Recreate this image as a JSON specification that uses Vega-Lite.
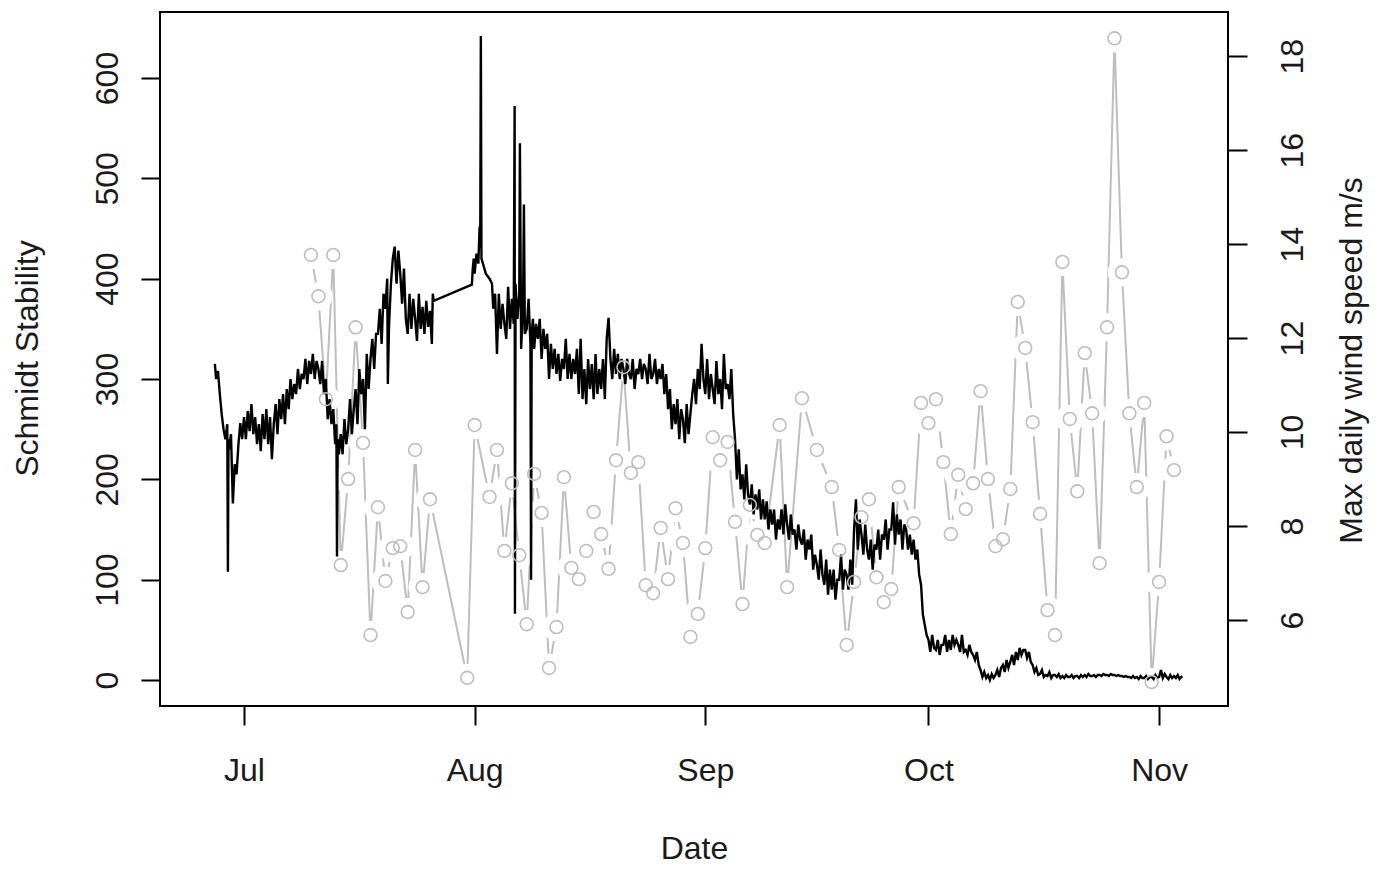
{
  "$schema": "https://vega.github.io/schema/vega-lite/v6.json",
  "width": 1068,
  "height": 694,
  "autosize": {"type": "none"},
  "padding": {"left": 160, "top": 12, "right": 155, "bottom": 167},
  "background": "white",
  "config": {
    "view": {"stroke": "black", "strokeWidth": 2},
    "font": "Liberation Sans",
    "axis": {"labelFont": "Liberation Sans", "titleFont": "Liberation Sans", "labelColor": "#1a1a1a", "titleColor": "#1a1a1a", "tickColor": "black", "tickWidth": 2, "grid": false, "domain": false, "labelFontSize": 32, "titleFontSize": 32, "titleFontWeight": "normal", "labelFlush": false, "labelOverlap": false}
  },
  "datasets": {
    "wind": [
      {"t":"2010-07-10","w":13.77},{"t":"2010-07-11","w":12.89},{"t":"2010-07-12","w":10.7},{"t":"2010-07-13","w":13.77},{"t":"2010-07-14","w":7.17},{"t":"2010-07-15","w":9.0},{"t":"2010-07-16","w":12.23},{"t":"2010-07-17","w":9.77},{"t":"2010-07-18","w":5.68},{"t":"2010-07-19","w":8.4},{"t":"2010-07-20","w":6.83},{"t":"2010-07-21","w":7.53},{"t":"2010-07-22","w":7.57},{"t":"2010-07-23","w":6.17},{"t":"2010-07-24","w":9.62},{"t":"2010-07-25","w":6.7},{"t":"2010-07-26","w":8.57},{"t":"2010-07-31","w":4.77},
      {"t":"2010-08-01","w":10.15},{"t":"2010-08-03","w":8.62},{"t":"2010-08-04","w":9.62},{"t":"2010-08-05","w":7.47},{"t":"2010-08-06","w":8.91},{"t":"2010-08-07","w":7.38},{"t":"2010-08-08","w":5.91},{"t":"2010-08-09","w":9.11},{"t":"2010-08-10","w":8.28},{"t":"2010-08-11","w":4.98},{"t":"2010-08-12","w":5.85},{"t":"2010-08-13","w":9.04},{"t":"2010-08-14","w":7.11},{"t":"2010-08-15","w":6.87},{"t":"2010-08-16","w":7.47},{"t":"2010-08-17","w":8.3},{"t":"2010-08-18","w":7.83},{"t":"2010-08-19","w":7.09},{"t":"2010-08-20","w":9.4},{"t":"2010-08-21","w":11.38},{"t":"2010-08-22","w":9.13},{"t":"2010-08-23","w":9.36},{"t":"2010-08-24","w":6.74},{"t":"2010-08-25","w":6.57},{"t":"2010-08-26","w":7.96},{"t":"2010-08-27","w":6.87},{"t":"2010-08-28","w":8.38},{"t":"2010-08-29","w":7.64},{"t":"2010-08-30","w":5.64},{"t":"2010-08-31","w":6.13},
      {"t":"2010-09-01","w":7.53},{"t":"2010-09-02","w":9.89},{"t":"2010-09-03","w":9.4},{"t":"2010-09-04","w":9.79},{"t":"2010-09-05","w":8.09},{"t":"2010-09-06","w":6.34},{"t":"2010-09-07","w":8.45},{"t":"2010-09-08","w":7.81},{"t":"2010-09-09","w":7.64},{"t":"2010-09-11","w":10.15},{"t":"2010-09-12","w":6.7},{"t":"2010-09-14","w":10.72},{"t":"2010-09-16","w":9.62},{"t":"2010-09-18","w":8.83},{"t":"2010-09-19","w":7.49},{"t":"2010-09-20","w":5.47},{"t":"2010-09-21","w":6.81},{"t":"2010-09-22","w":8.19},{"t":"2010-09-23","w":8.57},{"t":"2010-09-24","w":6.91},{"t":"2010-09-25","w":6.38},{"t":"2010-09-26","w":6.66},{"t":"2010-09-27","w":8.83},{"t":"2010-09-29","w":8.06},{"t":"2010-09-30","w":10.62},
      {"t":"2010-10-01","w":10.19},{"t":"2010-10-02","w":10.7},{"t":"2010-10-03","w":9.36},{"t":"2010-10-04","w":7.83},{"t":"2010-10-05","w":9.09},{"t":"2010-10-06","w":8.36},{"t":"2010-10-07","w":8.91},{"t":"2010-10-08","w":10.87},{"t":"2010-10-09","w":9.0},{"t":"2010-10-10","w":7.57},{"t":"2010-10-11","w":7.72},{"t":"2010-10-12","w":8.79},{"t":"2010-10-13","w":12.77},{"t":"2010-10-14","w":11.79},{"t":"2010-10-15","w":10.21},{"t":"2010-10-16","w":8.26},{"t":"2010-10-17","w":6.21},{"t":"2010-10-18","w":5.68},{"t":"2010-10-19","w":13.62},{"t":"2010-10-20","w":10.28},{"t":"2010-10-21","w":8.74},{"t":"2010-10-22","w":11.68},{"t":"2010-10-23","w":10.4},{"t":"2010-10-24","w":7.21},{"t":"2010-10-25","w":12.23},{"t":"2010-10-26","w":18.38},{"t":"2010-10-27","w":13.4},{"t":"2010-10-28","w":10.4},{"t":"2010-10-29","w":8.83},{"t":"2010-10-30","w":10.62},{"t":"2010-10-31","w":4.68},
      {"t":"2010-11-01","w":6.81},{"t":"2010-11-02","w":9.91},{"t":"2010-11-03","w":9.19}
    ],
    "schmidt": [
      {"t":"2010-06-27T02:00Z","s":315},{"t":"2010-06-27T06:00Z","s":300},{"t":"2010-06-27T12:00Z","s":308},{"t":"2010-06-27T18:00Z","s":285},
      {"t":"2010-06-28T00:00Z","s":265},{"t":"2010-06-28T06:00Z","s":250},{"t":"2010-06-28T12:00Z","s":240},{"t":"2010-06-28T18:00Z","s":255},{"t":"2010-06-28T20:00Z","s":108},{"t":"2010-06-28T22:00Z","s":240},
      {"t":"2010-06-29T00:00Z","s":230},{"t":"2010-06-29T06:00Z","s":245},{"t":"2010-06-29T12:00Z","s":176},{"t":"2010-06-29T18:00Z","s":215},
      {"t":"2010-06-30T00:00Z","s":205},{"t":"2010-06-30T06:00Z","s":235},{"t":"2010-06-30T12:00Z","s":256},{"t":"2010-06-30T18:00Z","s":240},
      {"t":"2010-07-01T00:00Z","s":262},{"t":"2010-07-01T06:00Z","s":240},{"t":"2010-07-01T12:00Z","s":268},{"t":"2010-07-01T18:00Z","s":248},
      {"t":"2010-07-02T00:00Z","s":275},{"t":"2010-07-02T06:00Z","s":245},{"t":"2010-07-02T12:00Z","s":262},{"t":"2010-07-02T18:00Z","s":235},
      {"t":"2010-07-03T00:00Z","s":255},{"t":"2010-07-03T06:00Z","s":228},{"t":"2010-07-03T12:00Z","s":265},{"t":"2010-07-03T18:00Z","s":240},
      {"t":"2010-07-04T00:00Z","s":270},{"t":"2010-07-04T06:00Z","s":235},{"t":"2010-07-04T12:00Z","s":262},{"t":"2010-07-04T18:00Z","s":220},
      {"t":"2010-07-05T00:00Z","s":255},{"t":"2010-07-05T06:00Z","s":275},{"t":"2010-07-05T12:00Z","s":245},{"t":"2010-07-05T18:00Z","s":280},
      {"t":"2010-07-06T00:00Z","s":260},{"t":"2010-07-06T06:00Z","s":285},{"t":"2010-07-06T12:00Z","s":255},{"t":"2010-07-06T18:00Z","s":290},
      {"t":"2010-07-07T00:00Z","s":270},{"t":"2010-07-07T06:00Z","s":300},{"t":"2010-07-07T12:00Z","s":280},{"t":"2010-07-07T18:00Z","s":295},
      {"t":"2010-07-08T00:00Z","s":285},{"t":"2010-07-08T06:00Z","s":310},{"t":"2010-07-08T12:00Z","s":290},{"t":"2010-07-08T18:00Z","s":305},
      {"t":"2010-07-09T00:00Z","s":300},{"t":"2010-07-09T06:00Z","s":320},{"t":"2010-07-09T12:00Z","s":295},{"t":"2010-07-09T18:00Z","s":318},
      {"t":"2010-07-10T00:00Z","s":305},{"t":"2010-07-10T06:00Z","s":325},{"t":"2010-07-10T12:00Z","s":300},{"t":"2010-07-10T18:00Z","s":318},
      {"t":"2010-07-11T00:00Z","s":310},{"t":"2010-07-11T06:00Z","s":295},{"t":"2010-07-11T12:00Z","s":318},{"t":"2010-07-11T18:00Z","s":285},
      {"t":"2010-07-12T00:00Z","s":300},{"t":"2010-07-12T06:00Z","s":260},{"t":"2010-07-12T12:00Z","s":280},{"t":"2010-07-12T18:00Z","s":255},
      {"t":"2010-07-13T00:00Z","s":270},{"t":"2010-07-13T06:00Z","s":235},{"t":"2010-07-13T10:00Z","s":255},{"t":"2010-07-13T12:00Z","s":123},{"t":"2010-07-13T14:00Z","s":240},{"t":"2010-07-13T18:00Z","s":225},
      {"t":"2010-07-14T00:00Z","s":245},{"t":"2010-07-14T06:00Z","s":225},{"t":"2010-07-14T12:00Z","s":260},{"t":"2010-07-14T18:00Z","s":235},
      {"t":"2010-07-15T00:00Z","s":250},{"t":"2010-07-15T06:00Z","s":280},{"t":"2010-07-15T12:00Z","s":245},{"t":"2010-07-15T18:00Z","s":270},
      {"t":"2010-07-16T00:00Z","s":290},{"t":"2010-07-16T06:00Z","s":255},{"t":"2010-07-16T12:00Z","s":310},{"t":"2010-07-16T18:00Z","s":285},
      {"t":"2010-07-17T00:00Z","s":300},{"t":"2010-07-17T06:00Z","s":250},{"t":"2010-07-17T12:00Z","s":325},{"t":"2010-07-17T18:00Z","s":290},
      {"t":"2010-07-18T00:00Z","s":320},{"t":"2010-07-18T06:00Z","s":340},{"t":"2010-07-18T12:00Z","s":310},{"t":"2010-07-18T18:00Z","s":345},
      {"t":"2010-07-19T00:00Z","s":345},{"t":"2010-07-19T06:00Z","s":370},{"t":"2010-07-19T12:00Z","s":335},{"t":"2010-07-19T18:00Z","s":385},
      {"t":"2010-07-20T00:00Z","s":370},{"t":"2010-07-20T06:00Z","s":400},{"t":"2010-07-20T08:00Z","s":295},{"t":"2010-07-20T12:00Z","s":355},{"t":"2010-07-20T18:00Z","s":395},
      {"t":"2010-07-21T00:00Z","s":420},{"t":"2010-07-21T06:00Z","s":432},{"t":"2010-07-21T12:00Z","s":395},{"t":"2010-07-21T18:00Z","s":428},
      {"t":"2010-07-22T00:00Z","s":405},{"t":"2010-07-22T06:00Z","s":375},{"t":"2010-07-22T12:00Z","s":410},{"t":"2010-07-22T18:00Z","s":360},
      {"t":"2010-07-23T00:00Z","s":345},{"t":"2010-07-23T06:00Z","s":385},{"t":"2010-07-23T12:00Z","s":350},{"t":"2010-07-23T18:00Z","s":380},
      {"t":"2010-07-24T00:00Z","s":360},{"t":"2010-07-24T06:00Z","s":338},{"t":"2010-07-24T12:00Z","s":385},{"t":"2010-07-24T18:00Z","s":350},
      {"t":"2010-07-25T00:00Z","s":372},{"t":"2010-07-25T06:00Z","s":345},{"t":"2010-07-25T12:00Z","s":378},{"t":"2010-07-25T18:00Z","s":352},
      {"t":"2010-07-26T00:00Z","s":368},{"t":"2010-07-26T06:00Z","s":335},{"t":"2010-07-26T09:00Z","s":385},{"t":"2010-07-26T12:00Z","s":378},
      {"t":"2010-07-31T15:00Z","s":394},{"t":"2010-07-31T18:00Z","s":410},{"t":"2010-07-31T21:00Z","s":420},
      {"t":"2010-08-01T00:00Z","s":405},{"t":"2010-08-01T06:00Z","s":425},{"t":"2010-08-01T12:00Z","s":415},{"t":"2010-08-01T16:00Z","s":452},{"t":"2010-08-01T18:00Z","s":430},{"t":"2010-08-01T20:00Z","s":642},{"t":"2010-08-01T22:00Z","s":420},
      {"t":"2010-08-02T00:00Z","s":418},{"t":"2010-08-02T12:00Z","s":405},
      {"t":"2010-08-03T00:00Z","s":400},{"t":"2010-08-03T08:00Z","s":395},{"t":"2010-08-03T12:00Z","s":370},{"t":"2010-08-03T18:00Z","s":385},
      {"t":"2010-08-04T00:00Z","s":325},{"t":"2010-08-04T06:00Z","s":385},{"t":"2010-08-04T12:00Z","s":350},{"t":"2010-08-04T18:00Z","s":375},
      {"t":"2010-08-05T00:00Z","s":355},{"t":"2010-08-05T06:00Z","s":340},{"t":"2010-08-05T12:00Z","s":392},{"t":"2010-08-05T18:00Z","s":350},
      {"t":"2010-08-06T00:00Z","s":380},{"t":"2010-08-06T06:00Z","s":355},{"t":"2010-08-06T09:00Z","s":572},{"t":"2010-08-06T10:00Z","s":66},{"t":"2010-08-06T12:00Z","s":395},{"t":"2010-08-06T18:00Z","s":360},
      {"t":"2010-08-07T00:00Z","s":385},{"t":"2010-08-07T02:00Z","s":535},{"t":"2010-08-07T06:00Z","s":330},{"t":"2010-08-07T12:00Z","s":370},{"t":"2010-08-07T15:00Z","s":474},{"t":"2010-08-07T18:00Z","s":345},
      {"t":"2010-08-08T00:00Z","s":350},{"t":"2010-08-08T06:00Z","s":380},{"t":"2010-08-08T12:00Z","s":335},{"t":"2010-08-08T14:00Z","s":100},{"t":"2010-08-08T16:00Z","s":345},{"t":"2010-08-08T20:00Z","s":360},
      {"t":"2010-08-09T00:00Z","s":330},{"t":"2010-08-09T06:00Z","s":355},{"t":"2010-08-09T12:00Z","s":340},{"t":"2010-08-09T18:00Z","s":360},
      {"t":"2010-08-10T00:00Z","s":320},{"t":"2010-08-10T06:00Z","s":350},{"t":"2010-08-10T12:00Z","s":330},{"t":"2010-08-10T18:00Z","s":345},
      {"t":"2010-08-11T00:00Z","s":300},{"t":"2010-08-11T06:00Z","s":335},{"t":"2010-08-11T12:00Z","s":310},{"t":"2010-08-11T18:00Z","s":330},
      {"t":"2010-08-12T00:00Z","s":305},{"t":"2010-08-12T06:00Z","s":325},{"t":"2010-08-12T12:00Z","s":298},{"t":"2010-08-12T18:00Z","s":320},
      {"t":"2010-08-13T00:00Z","s":310},{"t":"2010-08-13T06:00Z","s":340},{"t":"2010-08-13T12:00Z","s":300},{"t":"2010-08-13T18:00Z","s":325},
      {"t":"2010-08-14T00:00Z","s":300},{"t":"2010-08-14T06:00Z","s":320},{"t":"2010-08-14T12:00Z","s":305},{"t":"2010-08-14T18:00Z","s":330},
      {"t":"2010-08-15T00:00Z","s":285},{"t":"2010-08-15T06:00Z","s":340},{"t":"2010-08-15T12:00Z","s":280},{"t":"2010-08-15T18:00Z","s":310},
      {"t":"2010-08-16T00:00Z","s":275},{"t":"2010-08-16T06:00Z","s":320},{"t":"2010-08-16T12:00Z","s":290},{"t":"2010-08-16T18:00Z","s":315},
      {"t":"2010-08-17T00:00Z","s":280},{"t":"2010-08-17T06:00Z","s":325},{"t":"2010-08-17T12:00Z","s":285},{"t":"2010-08-17T18:00Z","s":310},
      {"t":"2010-08-18T00:00Z","s":290},{"t":"2010-08-18T06:00Z","s":320},{"t":"2010-08-18T12:00Z","s":280},{"t":"2010-08-18T18:00Z","s":340},
      {"t":"2010-08-19T00:00Z","s":361},{"t":"2010-08-19T06:00Z","s":320},{"t":"2010-08-19T12:00Z","s":300},{"t":"2010-08-19T18:00Z","s":330},
      {"t":"2010-08-20T00:00Z","s":305},{"t":"2010-08-20T06:00Z","s":325},{"t":"2010-08-20T12:00Z","s":300},{"t":"2010-08-20T18:00Z","s":320},
      {"t":"2010-08-21T00:00Z","s":310},{"t":"2010-08-21T06:00Z","s":295},{"t":"2010-08-21T12:00Z","s":320},{"t":"2010-08-21T18:00Z","s":305},
      {"t":"2010-08-22T00:00Z","s":300},{"t":"2010-08-22T06:00Z","s":320},{"t":"2010-08-22T12:00Z","s":290},{"t":"2010-08-22T18:00Z","s":310},
      {"t":"2010-08-23T00:00Z","s":305},{"t":"2010-08-23T06:00Z","s":320},{"t":"2010-08-23T12:00Z","s":300},{"t":"2010-08-23T18:00Z","s":315},
      {"t":"2010-08-24T00:00Z","s":310},{"t":"2010-08-24T06:00Z","s":295},{"t":"2010-08-24T12:00Z","s":325},{"t":"2010-08-24T18:00Z","s":300},
      {"t":"2010-08-25T00:00Z","s":305},{"t":"2010-08-25T06:00Z","s":320},{"t":"2010-08-25T12:00Z","s":295},{"t":"2010-08-25T18:00Z","s":310},
      {"t":"2010-08-26T00:00Z","s":300},{"t":"2010-08-26T06:00Z","s":315},{"t":"2010-08-26T12:00Z","s":285},{"t":"2010-08-26T18:00Z","s":305},
      {"t":"2010-08-27T00:00Z","s":270},{"t":"2010-08-27T06:00Z","s":290},{"t":"2010-08-27T12:00Z","s":250},{"t":"2010-08-27T18:00Z","s":275},
      {"t":"2010-08-28T00:00Z","s":255},{"t":"2010-08-28T06:00Z","s":280},{"t":"2010-08-28T12:00Z","s":240},{"t":"2010-08-28T18:00Z","s":270},
      {"t":"2010-08-29T00:00Z","s":260},{"t":"2010-08-29T06:00Z","s":236},{"t":"2010-08-29T12:00Z","s":275},{"t":"2010-08-29T18:00Z","s":245},
      {"t":"2010-08-30T00:00Z","s":265},{"t":"2010-08-30T06:00Z","s":285},{"t":"2010-08-30T12:00Z","s":300},{"t":"2010-08-30T18:00Z","s":275},
      {"t":"2010-08-31T00:00Z","s":310},{"t":"2010-08-31T06:00Z","s":290},{"t":"2010-08-31T12:00Z","s":335},{"t":"2010-08-31T18:00Z","s":300},
      {"t":"2010-09-01T00:00Z","s":285},{"t":"2010-09-01T06:00Z","s":320},{"t":"2010-09-01T12:00Z","s":280},{"t":"2010-09-01T18:00Z","s":305},
      {"t":"2010-09-02T00:00Z","s":290},{"t":"2010-09-02T06:00Z","s":275},{"t":"2010-09-02T12:00Z","s":318},{"t":"2010-09-02T18:00Z","s":285},
      {"t":"2010-09-03T00:00Z","s":300},{"t":"2010-09-03T06:00Z","s":270},{"t":"2010-09-03T12:00Z","s":325},{"t":"2010-09-03T18:00Z","s":290},
      {"t":"2010-09-04T00:00Z","s":295},{"t":"2010-09-04T06:00Z","s":280},{"t":"2010-09-04T12:00Z","s":310},{"t":"2010-09-04T18:00Z","s":265},
      {"t":"2010-09-05T00:00Z","s":240},{"t":"2010-09-05T06:00Z","s":200},{"t":"2010-09-05T12:00Z","s":230},{"t":"2010-09-05T18:00Z","s":190},
      {"t":"2010-09-06T00:00Z","s":205},{"t":"2010-09-06T06:00Z","s":180},{"t":"2010-09-06T12:00Z","s":215},{"t":"2010-09-06T18:00Z","s":185},
      {"t":"2010-09-07T00:00Z","s":175},{"t":"2010-09-07T06:00Z","s":195},{"t":"2010-09-07T12:00Z","s":165},{"t":"2010-09-07T18:00Z","s":185},
      {"t":"2010-09-08T00:00Z","s":170},{"t":"2010-09-08T06:00Z","s":190},{"t":"2010-09-08T12:00Z","s":160},{"t":"2010-09-08T18:00Z","s":180},
      {"t":"2010-09-09T00:00Z","s":160},{"t":"2010-09-09T06:00Z","s":178},{"t":"2010-09-09T12:00Z","s":150},{"t":"2010-09-09T18:00Z","s":170},
      {"t":"2010-09-10T00:00Z","s":155},{"t":"2010-09-10T06:00Z","s":170},{"t":"2010-09-10T12:00Z","s":140},{"t":"2010-09-10T18:00Z","s":160},
      {"t":"2010-09-11T00:00Z","s":150},{"t":"2010-09-11T06:00Z","s":170},{"t":"2010-09-11T12:00Z","s":145},{"t":"2010-09-11T18:00Z","s":175},
      {"t":"2010-09-12T00:00Z","s":155},{"t":"2010-09-12T06:00Z","s":140},{"t":"2010-09-12T12:00Z","s":165},{"t":"2010-09-12T18:00Z","s":145},
      {"t":"2010-09-13T00:00Z","s":150},{"t":"2010-09-13T06:00Z","s":130},{"t":"2010-09-13T12:00Z","s":155},{"t":"2010-09-13T18:00Z","s":140},
      {"t":"2010-09-14T00:00Z","s":135},{"t":"2010-09-14T06:00Z","s":150},{"t":"2010-09-14T12:00Z","s":120},{"t":"2010-09-14T18:00Z","s":140},
      {"t":"2010-09-15T00:00Z","s":130},{"t":"2010-09-15T06:00Z","s":145},{"t":"2010-09-15T12:00Z","s":110},{"t":"2010-09-15T18:00Z","s":125},
      {"t":"2010-09-16T00:00Z","s":115},{"t":"2010-09-16T06:00Z","s":100},{"t":"2010-09-16T12:00Z","s":130},{"t":"2010-09-16T18:00Z","s":105},
      {"t":"2010-09-17T00:00Z","s":95},{"t":"2010-09-17T06:00Z","s":120},{"t":"2010-09-17T12:00Z","s":85},{"t":"2010-09-17T18:00Z","s":110},
      {"t":"2010-09-18T00:00Z","s":90},{"t":"2010-09-18T06:00Z","s":110},{"t":"2010-09-18T12:00Z","s":80},{"t":"2010-09-18T18:00Z","s":100},
      {"t":"2010-09-19T00:00Z","s":100},{"t":"2010-09-19T06:00Z","s":125},{"t":"2010-09-19T12:00Z","s":90},{"t":"2010-09-19T18:00Z","s":110},
      {"t":"2010-09-20T00:00Z","s":105},{"t":"2010-09-20T06:00Z","s":90},{"t":"2010-09-20T12:00Z","s":120},{"t":"2010-09-20T18:00Z","s":95},
      {"t":"2010-09-21T00:00Z","s":150},{"t":"2010-09-21T06:00Z","s":180},{"t":"2010-09-21T12:00Z","s":130},{"t":"2010-09-21T18:00Z","s":160},
      {"t":"2010-09-22T00:00Z","s":145},{"t":"2010-09-22T06:00Z","s":125},{"t":"2010-09-22T12:00Z","s":155},{"t":"2010-09-22T18:00Z","s":130},
      {"t":"2010-09-23T00:00Z","s":120},{"t":"2010-09-23T06:00Z","s":140},{"t":"2010-09-23T12:00Z","s":110},{"t":"2010-09-23T18:00Z","s":135},
      {"t":"2010-09-24T00:00Z","s":130},{"t":"2010-09-24T06:00Z","s":150},{"t":"2010-09-24T12:00Z","s":120},{"t":"2010-09-24T18:00Z","s":145},
      {"t":"2010-09-25T00:00Z","s":140},{"t":"2010-09-25T06:00Z","s":160},{"t":"2010-09-25T12:00Z","s":130},{"t":"2010-09-25T18:00Z","s":150},
      {"t":"2010-09-26T00:00Z","s":150},{"t":"2010-09-26T06:00Z","s":177},{"t":"2010-09-26T12:00Z","s":135},{"t":"2010-09-26T18:00Z","s":165},
      {"t":"2010-09-27T00:00Z","s":145},{"t":"2010-09-27T06:00Z","s":160},{"t":"2010-09-27T12:00Z","s":130},{"t":"2010-09-27T18:00Z","s":155},
      {"t":"2010-09-28T00:00Z","s":150},{"t":"2010-09-28T06:00Z","s":130},{"t":"2010-09-28T12:00Z","s":145},{"t":"2010-09-28T18:00Z","s":125},
      {"t":"2010-09-29T00:00Z","s":140},{"t":"2010-09-29T06:00Z","s":120},{"t":"2010-09-29T12:00Z","s":130},{"t":"2010-09-29T18:00Z","s":105},
      {"t":"2010-09-30T00:00Z","s":95},{"t":"2010-09-30T06:00Z","s":65},{"t":"2010-09-30T12:00Z","s":55},{"t":"2010-09-30T18:00Z","s":45},
      {"t":"2010-10-01T00:00Z","s":40},{"t":"2010-10-01T06:00Z","s":28},{"t":"2010-10-01T12:00Z","s":45},{"t":"2010-10-01T18:00Z","s":32},
      {"t":"2010-10-02T00:00Z","s":30},{"t":"2010-10-02T06:00Z","s":40},{"t":"2010-10-02T12:00Z","s":25},{"t":"2010-10-02T18:00Z","s":35},
      {"t":"2010-10-03T00:00Z","s":35},{"t":"2010-10-03T06:00Z","s":45},{"t":"2010-10-03T12:00Z","s":28},{"t":"2010-10-03T18:00Z","s":40},
      {"t":"2010-10-04T00:00Z","s":30},{"t":"2010-10-04T06:00Z","s":45},{"t":"2010-10-04T12:00Z","s":35},{"t":"2010-10-04T18:00Z","s":40},
      {"t":"2010-10-05T00:00Z","s":35},{"t":"2010-10-05T06:00Z","s":28},{"t":"2010-10-05T12:00Z","s":45},{"t":"2010-10-05T18:00Z","s":28},
      {"t":"2010-10-06T00:00Z","s":30},{"t":"2010-10-06T06:00Z","s":25},{"t":"2010-10-06T12:00Z","s":35},{"t":"2010-10-06T18:00Z","s":28},
      {"t":"2010-10-07T00:00Z","s":25},{"t":"2010-10-07T06:00Z","s":20},{"t":"2010-10-07T12:00Z","s":28},{"t":"2010-10-07T18:00Z","s":15},
      {"t":"2010-10-08T00:00Z","s":10},{"t":"2010-10-08T06:00Z","s":3},{"t":"2010-10-08T12:00Z","s":8},{"t":"2010-10-08T18:00Z","s":2},
      {"t":"2010-10-09T00:00Z","s":5},{"t":"2010-10-09T06:00Z","s":0},{"t":"2010-10-09T12:00Z","s":6},{"t":"2010-10-09T18:00Z","s":2},
      {"t":"2010-10-10T00:00Z","s":5},{"t":"2010-10-10T06:00Z","s":10},{"t":"2010-10-10T12:00Z","s":3},{"t":"2010-10-10T18:00Z","s":12},
      {"t":"2010-10-11T00:00Z","s":15},{"t":"2010-10-11T06:00Z","s":8},{"t":"2010-10-11T12:00Z","s":20},{"t":"2010-10-11T18:00Z","s":12},
      {"t":"2010-10-12T00:00Z","s":18},{"t":"2010-10-12T06:00Z","s":25},{"t":"2010-10-12T12:00Z","s":15},{"t":"2010-10-12T18:00Z","s":28},
      {"t":"2010-10-13T00:00Z","s":20},{"t":"2010-10-13T06:00Z","s":32},{"t":"2010-10-13T12:00Z","s":25},{"t":"2010-10-13T18:00Z","s":30},
      {"t":"2010-10-14T00:00Z","s":30},{"t":"2010-10-14T06:00Z","s":22},{"t":"2010-10-14T12:00Z","s":28},{"t":"2010-10-14T18:00Z","s":18},
      {"t":"2010-10-15T00:00Z","s":15},{"t":"2010-10-15T06:00Z","s":8},{"t":"2010-10-15T12:00Z","s":12},{"t":"2010-10-15T18:00Z","s":5},
      {"t":"2010-10-16T00:00Z","s":6},{"t":"2010-10-16T06:00Z","s":10},{"t":"2010-10-16T12:00Z","s":3},{"t":"2010-10-16T18:00Z","s":5},
      {"t":"2010-10-17T00:00Z","s":4},{"t":"2010-10-17T06:00Z","s":8},{"t":"2010-10-17T12:00Z","s":2},{"t":"2010-10-17T18:00Z","s":5},
      {"t":"2010-10-18T00:00Z","s":5},{"t":"2010-10-18T06:00Z","s":3},{"t":"2010-10-18T12:00Z","s":6},{"t":"2010-10-18T18:00Z","s":2},
      {"t":"2010-10-19T00:00Z","s":4},{"t":"2010-10-19T06:00Z","s":2},{"t":"2010-10-19T12:00Z","s":5},{"t":"2010-10-19T18:00Z","s":3},
      {"t":"2010-10-20T00:00Z","s":3},{"t":"2010-10-20T06:00Z","s":5},{"t":"2010-10-20T12:00Z","s":2},{"t":"2010-10-20T18:00Z","s":4},
      {"t":"2010-10-21T00:00Z","s":4},{"t":"2010-10-21T06:00Z","s":2},{"t":"2010-10-21T12:00Z","s":5},{"t":"2010-10-21T18:00Z","s":3},
      {"t":"2010-10-22T00:00Z","s":5},{"t":"2010-10-22T06:00Z","s":3},{"t":"2010-10-22T12:00Z","s":6},{"t":"2010-10-22T18:00Z","s":4},
      {"t":"2010-10-23T00:00Z","s":4},{"t":"2010-10-23T06:00Z","s":5},{"t":"2010-10-23T12:00Z","s":3},{"t":"2010-10-23T18:00Z","s":5},
      {"t":"2010-10-24T00:00Z","s":5},{"t":"2010-10-24T06:00Z","s":4},{"t":"2010-10-24T12:00Z","s":6},{"t":"2010-10-24T18:00Z","s":5},
      {"t":"2010-10-25T00:00Z","s":5},{"t":"2010-10-25T06:00Z","s":4},{"t":"2010-10-25T12:00Z","s":6},{"t":"2010-10-25T18:00Z","s":5},
      {"t":"2010-10-26T00:00Z","s":5},{"t":"2010-10-26T06:00Z","s":4},{"t":"2010-10-26T12:00Z","s":5},{"t":"2010-10-26T18:00Z","s":4},
      {"t":"2010-10-27T00:00Z","s":4},{"t":"2010-10-27T06:00Z","s":3},{"t":"2010-10-27T12:00Z","s":4},{"t":"2010-10-27T18:00Z","s":3},
      {"t":"2010-10-28T00:00Z","s":3},{"t":"2010-10-28T06:00Z","s":2},{"t":"2010-10-28T12:00Z","s":4},{"t":"2010-10-28T18:00Z","s":2},
      {"t":"2010-10-29T00:00Z","s":3},{"t":"2010-10-29T06:00Z","s":1},{"t":"2010-10-29T12:00Z","s":4},{"t":"2010-10-29T18:00Z","s":2},
      {"t":"2010-10-30T00:00Z","s":2},{"t":"2010-10-30T06:00Z","s":4},{"t":"2010-10-30T12:00Z","s":1},{"t":"2010-10-30T18:00Z","s":3},
      {"t":"2010-10-31T00:00Z","s":3},{"t":"2010-10-31T06:00Z","s":1},{"t":"2010-10-31T12:00Z","s":5},{"t":"2010-10-31T18:00Z","s":2},
      {"t":"2010-11-01T00:00Z","s":3},{"t":"2010-11-01T06:00Z","s":10},{"t":"2010-11-01T12:00Z","s":2},{"t":"2010-11-01T18:00Z","s":6},
      {"t":"2010-11-02T00:00Z","s":3},{"t":"2010-11-02T06:00Z","s":1},{"t":"2010-11-02T12:00Z","s":5},{"t":"2010-11-02T18:00Z","s":2},
      {"t":"2010-11-03T00:00Z","s":4},{"t":"2010-11-03T06:00Z","s":2},{"t":"2010-11-03T12:00Z","s":5},{"t":"2010-11-03T18:00Z","s":1},
      {"t":"2010-11-04T00:00Z","s":3},{"t":"2010-11-04T02:00Z","s":2}
    ]
  },
  "encoding": {
    "x": {
      "field": "t", "type": "temporal",
      "scale": {"type": "utc", "domain": [{"year": 2010, "month": 6, "date": 19, "hours": 17, "utc": true}, {"year": 2010, "month": 11, "date": 10, "hours": 6, "minutes": 15, "utc": true}]},
      "axis": {
        "orient": "bottom", "labelExpr": "utcFormat(datum.value, '%b')",
        "values": [{"year": 2010, "month": 7, "date": 1, "utc": true}, {"year": 2010, "month": 8, "date": 1, "utc": true}, {"year": 2010, "month": 9, "date": 1, "utc": true}, {"year": 2010, "month": 10, "date": 1, "utc": true}, {"year": 2010, "month": 11, "date": 1, "utc": true}],
        "tickSize": 19, "labelPadding": 55, "labelBaseline": "alphabetic", "labelAlign": "center",
        "title": "Date", "titleX": 534, "titleY": 152, "titleBaseline": "alphabetic", "titleAlign": "center", "titleAnchor": "middle"
      }
    }
  },
  "layer": [
    {
      "data": {"name": "wind"},
      "mark": {"type": "line", "color": "#bebebe", "strokeWidth": 2},
      "encoding": {
        "y": {"field": "w", "type": "quantitative", "scale": {"domain": [4.17, 18.94], "nice": false, "zero": false},
          "axis": {"orient": "right", "values": [6, 8, 10, 12, 14, 16, 18], "tickSize": 19, "labelAngle": 270, "labelAlign": "center", "labelBaseline": "alphabetic", "labelPadding": 55,
            "title": "Max daily wind speed m/s", "titleAngle": 270, "titleX": 133, "titleY": 348, "titleAlign": "center", "titleBaseline": "alphabetic"}}
      }
    },
    {
      "data": {"name": "wind"},
      "mark": {"type": "point", "shape": "circle", "filled": true, "color": "white", "opacity": 1, "size": 800},
      "encoding": {
        "y": {"field": "w", "type": "quantitative", "scale": {"domain": [4.17, 18.94], "nice": false, "zero": false}, "axis": null}
      }
    },
    {
      "data": {"name": "schmidt"},
      "mark": {"type": "line", "color": "black", "strokeWidth": 2.4},
      "encoding": {
        "y": {"field": "s", "type": "quantitative", "scale": {"domain": [-25.9, 665.8], "nice": false, "zero": false},
          "axis": {"orient": "left", "values": [0, 100, 200, 300, 400, 500, 600], "tickSize": 19, "labelAngle": 270, "labelAlign": "center", "labelBaseline": "alphabetic", "labelPadding": 24,
            "title": "Schmidt Stability", "titleAngle": 270, "titleX": -123, "titleY": 346, "titleAlign": "center", "titleBaseline": "alphabetic"}}
      }
    },
    {
      "data": {"name": "wind"},
      "mark": {"type": "point", "shape": "circle", "filled": false, "color": "#bebebe", "opacity": 1, "size": 165, "strokeWidth": 1.6},
      "encoding": {
        "y": {"field": "w", "type": "quantitative", "scale": {"domain": [4.17, 18.94], "nice": false, "zero": false}, "axis": null}
      }
    }
  ],
  "resolve": {"scale": {"y": "independent"}, "axis": {"y": "independent"}}
}
